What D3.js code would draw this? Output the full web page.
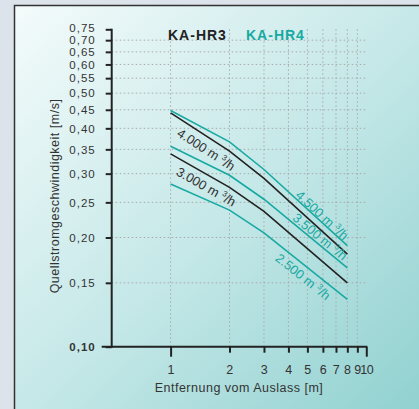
<!DOCTYPE html>
<html><head><meta charset="utf-8">
<script src="https://cdn.jsdelivr.net/npm/d3@7"></script>
<style>
html,body{margin:0;padding:0;background:#dde3ea;}
svg{display:block;font-family:"Liberation Sans",Arial,sans-serif;}
</style></head>
<body>
<script>
// ---- data ----
const distances = [1, 2, 3, 8];
const hr3_4000 = [0.441, 0.346, 0.291, 0.180];
const hr3_3000 = [0.340, 0.275, 0.236, 0.150];
const hr4_4500 = [0.448, 0.367, 0.308, 0.190];
const hr4_3500 = [0.357, 0.297, 0.255, 0.165];
const hr4_2500 = [0.281, 0.238, 0.206, 0.135];
const seriesNames = ["4.000", "3.000", "4.500", "3.500", "2.500"];
const seriesGroup = ["KA-HR3", "KA-HR3", "KA-HR4", "KA-HR4", "KA-HR4"];
const yTicks = [0.10, 0.15, 0.20, 0.25, 0.30, 0.35, 0.40, 0.45, 0.50, 0.55, 0.60, 0.65, 0.70, 0.75];
const xTicks = [1, 2, 3, 4, 5, 6, 7, 8, 9, 10];
const legendLabels = ["KA-HR3", "KA-HR4"];
const xTitle = "Entfernung vom Auslass [m]";
const yTitle = "Quellstromgeschwindigkeit [m/s]";

// label placement (data x of label centre, offset from line in px)
const labelX = [1.52, 1.52, 5.94, 5.8, 4.75];
const labelOff = [13.5, 12.6, -7.3, -8.6, 12.7];

const W = 419, H = 409;
const DARK = "#222", TEAL = "#17aaa3", TXT = "#333";
const svg = d3.select("body").append("svg").attr("width", W).attr("height", H);

const defs = svg.append("defs");
const grad = defs.append("linearGradient").attr("id", "bg")
  .attr("x1", 0).attr("y1", 0).attr("x2", 1).attr("y2", 1);
grad.append("stop").attr("offset", 0).attr("stop-color", "#f4fbfb");
grad.append("stop").attr("offset", 0.5).attr("stop-color", "#c6e8e8");
grad.append("stop").attr("offset", 1).attr("stop-color", "#8ed0cf");

svg.append("rect").attr("x", 14.5).attr("y", 5.5).attr("width", W).attr("height", H)
  .attr("fill", "url(#bg)").attr("stroke", "#333").attr("stroke-width", 1.5);

const x = d3.scaleLog().domain([0.5, 10]).range([111.7, 366.3]);
const y = d3.scaleLog().domain([0.1, 0.75]).range([346.7, 29.3]);

// grid
const grid = svg.append("g").attr("stroke", "#a9a9a9").attr("stroke-width", 1)
  .attr("stroke-dasharray", "1.5,2.5").attr("fill", "none");
grid.selectAll("line.h").data(yTicks.filter(v => v > 0.1 && v < 0.75)).join("line")
  .attr("x1", x(0.5)).attr("x2", x(10)).attr("y1", d => y(d)).attr("y2", d => y(d));
grid.selectAll("line.v").data(xTicks.filter(v => v < 10)).join("line")
  .attr("x1", d => x(d)).attr("x2", d => x(d)).attr("y1", y(0.75)).attr("y2", y(0.1));

// axes
const fmt = d => d3.format(".2f")(d).replace(".", ",");
const yAxis = svg.append("g").attr("transform", `translate(${x(0.5)},0)`)
  .call(d3.axisLeft(y).tickValues(yTicks).tickFormat(fmt).tickSize(6).tickPadding(10));
yAxis.select(".domain").remove();
yAxis.selectAll(".tick line").attr("stroke", DARK).attr("stroke-width", 2);
yAxis.selectAll(".tick text").attr("fill", TXT).style("font-size", "11.5px")
  .style("letter-spacing", "1px").attr("font-family", null)
  .attr("dy", d => d === 0.75 ? "0.2em" : "0.32em")
  .style("font-weight", d => d === 0.1 ? "bold" : "normal");

const xAxis = svg.append("g").attr("transform", `translate(0,${y(0.1)})`)
  .call(d3.axisBottom(x).tickValues(xTicks).tickFormat(d3.format("d")).tickSize(6).tickPadding(12));
xAxis.select(".domain").remove();
xAxis.selectAll(".tick line").attr("stroke", DARK).attr("stroke-width", 2)
  .attr("y2", d => (d === 1 || d === 10) ? 10 : 6);
xAxis.selectAll(".tick text").attr("fill", TXT).style("font-size", "12.5px")
  .attr("font-family", null).style("letter-spacing", d => d === 10 ? "-0.5px" : "0.5px");

// axis lines
svg.append("line").attr("x1", x(0.5)).attr("x2", x(0.5)).attr("y1", y(0.75) - 0.5).attr("y2", y(0.1) + 1)
  .attr("stroke", DARK).attr("stroke-width", 2);
svg.append("line").attr("x1", x(0.5) - 10).attr("x2", x(10) + 1).attr("y1", y(0.1)).attr("y2", y(0.1))
  .attr("stroke", DARK).attr("stroke-width", 2);

// titles
svg.append("text").attr("x", (x(0.5) + x(10)) / 2 + 0).attr("y", 392)
  .attr("text-anchor", "middle").attr("fill", TXT).style("font-size", "12.5px")
  .style("letter-spacing", "0.5px").text(xTitle);
svg.append("text").attr("transform", "translate(59,196) rotate(-90)")
  .attr("text-anchor", "middle").attr("fill", TXT).style("font-size", "12.5px")
  .style("letter-spacing", "0.5px").text(yTitle);

// legend
const legX = [168, 246];
legendLabels.forEach((t, i) => {
  svg.append("text").attr("x", legX[i]).attr("y", 39.5)
    .attr("fill", i === 0 ? DARK : TEAL).style("font-size", "14px").style("font-weight", "bold")
    .style("letter-spacing", "1px").text(t);
});

// lines
const series = [hr3_4000, hr3_3000, hr4_4500, hr4_3500, hr4_2500];
const line = d3.line().x(d => x(d[0])).y(d => y(d[1]));
series.forEach((vals, i) => {
  const pts = distances.map((d, j) => [d, vals[j]]);
  svg.append("path").attr("d", line(pts)).attr("fill", "none")
    .attr("stroke", seriesGroup[i] === "KA-HR3" ? DARK : TEAL).attr("stroke-width", 1.6);
});

// line labels
series.forEach((vals, i) => {
  const lx = labelX[i];
  let j = 0;
  while (j < distances.length - 2 && lx > distances[j + 1]) j++;
  const x0 = x(distances[j]), x1 = x(distances[j + 1]);
  const y0 = y(vals[j]), y1 = y(vals[j + 1]);
  const px = x(lx);
  const py = y0 + (px - x0) / (x1 - x0) * (y1 - y0);
  const ang = Math.atan2(y1 - y0, x1 - x0) * 180 / Math.PI;
  const col = seriesGroup[i] === "KA-HR3" ? TXT : TEAL;
  const t = svg.append("text")
    .attr("transform", `translate(${px},${py + labelOff[i]}) rotate(${ang})`)
    .attr("text-anchor", "middle").attr("dy", "0.35em")
    .attr("fill", col).style("font-size", "13px");
  t.append("tspan").text(seriesNames[i] + " m ");
  t.append("tspan").attr("dy", -5).style("font-size", "8px").text("3");
  t.append("tspan").attr("dy", 5).text("/h");
});
</script>
</body></html>
